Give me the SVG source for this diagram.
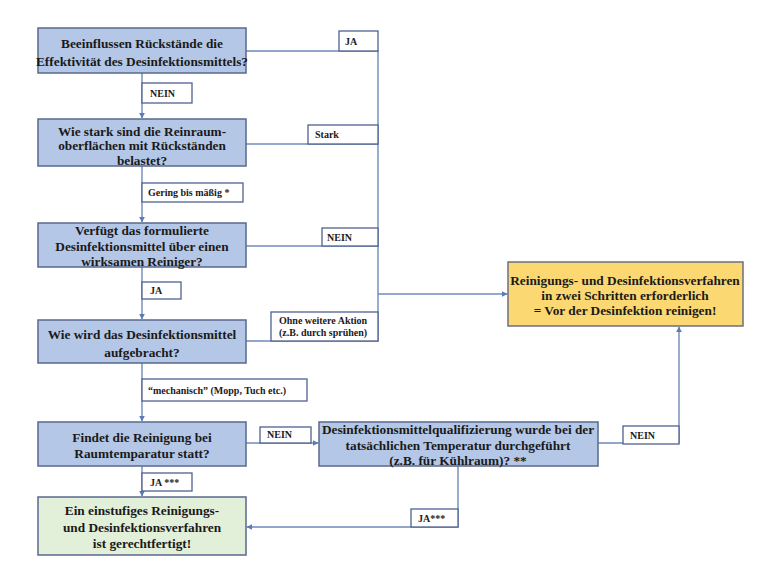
<svg xmlns="http://www.w3.org/2000/svg" width="760" height="570" viewBox="0 0 760 570">
<defs>
<marker id="ah" viewBox="0 0 10 10" refX="9" refY="5" markerWidth="6" markerHeight="6" orient="auto" markerUnits="userSpaceOnUse">
<path d="M0,0 L10,5 L0,10 z" fill="#5a7bb5"/>
</marker>
<style>
.q{fill:#b4c7e7;stroke:#59688f;stroke-width:1.5}
.y{fill:#fcd872;stroke:#6b6f82;stroke-width:1.5}
.g{fill:#e2efd9;stroke:#59688f;stroke-width:1.5}
.t{font-family:"Liberation Serif","Times New Roman",serif;font-weight:bold;font-size:13.3px;fill:#1a1a1a;text-anchor:middle}
.lb{fill:#fff;stroke:#4f6190;stroke-width:1.3}
.lt{font-family:"Liberation Serif","Times New Roman",serif;font-weight:bold;font-size:10px;fill:#1a1a1a}
.c{fill:none;stroke:#6f8bbb;stroke-width:1.4}
</style>
</defs>
<rect width="760" height="570" fill="#fff"/>
<g id="connectors">
<path class="c" d="M142,73 V118" marker-end="url(#ah)"/>
<path class="c" d="M246,51 H378 V341 H246"/>
<path class="c" d="M246,144 H378"/>
<path class="c" d="M246,246 H378"/>
<path class="c" d="M378,294 H507" marker-end="url(#ah)"/>
<path class="c" d="M142,166 V222" marker-end="url(#ah)"/>
<path class="c" d="M142,267 V319" marker-end="url(#ah)"/>
<path class="c" d="M142,363 V421" marker-end="url(#ah)"/>
<path class="c" d="M142,466 V496" marker-end="url(#ah)"/>
<path class="c" d="M246,443 H318" marker-end="url(#ah)"/>
<path class="c" d="M598,443 H679 V327" marker-end="url(#ah)"/>
<path class="c" d="M458,466 V527 H247" marker-end="url(#ah)"/>
</g>
<g id="labels">
<rect class="lb" x="339" y="31" width="39" height="20"/><text class="lt" x="345" y="45">JA</text>
<rect class="lb" x="142" y="83" width="50" height="20"/><text class="lt" x="150" y="97">NEIN</text>
<rect class="lb" x="308" y="125" width="70" height="19"/><text class="lt" x="315" y="138">Stark</text>
<rect class="lb" x="142" y="183" width="101" height="19"/><text class="lt" x="148" y="196">Gering bis mäßig *</text>
<rect class="lb" x="322" y="228" width="56" height="18"/><text class="lt" x="327" y="241">NEIN</text>
<rect class="lb" x="142" y="282" width="39" height="17"/><text class="lt" x="150" y="294">JA</text>
<rect class="lb" x="271" y="312" width="107" height="29"/><text class="lt" x="279" y="324">Ohne weitere Aktion</text><text class="lt" x="279" y="336">(z.B. durch sprühen)</text>
<rect class="lb" x="142" y="379" width="165" height="22"/><text class="lt" x="148" y="394">“mechanisch” (Mopp, Tuch etc.)</text>
<rect class="lb" x="260" y="427" width="51" height="16"/><text class="lt" x="267" y="438">NEIN</text>
<rect class="lb" x="623" y="426" width="56" height="18"/><text class="lt" x="630" y="439">NEIN</text>
<rect class="lb" x="142" y="473" width="50" height="18"/><text class="lt" x="150" y="486">JA ***</text>
<rect class="lb" x="411" y="509" width="47" height="18"/><text class="lt" x="418" y="522">JA***</text>
</g>
<g id="n1"><rect class="q" x="38" y="28" width="208" height="45"/><text class="t" x="142" y="48">Beeinflussen Rückstände die</text><text class="t" x="142" y="66">Effektivität des Desinfektionsmittels?</text></g>
<g id="n2"><rect class="q" x="38" y="119" width="208" height="47"/><text class="t" x="142" y="136">Wie stark sind die Reinraum-</text><text class="t" x="142" y="150">oberflächen mit Rückständen</text><text class="t" x="142" y="165">belastet?</text></g>
<g id="n3"><rect class="q" x="38" y="223" width="208" height="44"/><text class="t" x="142" y="235">Verfügt das formulierte</text><text class="t" x="142" y="251">Desinfektionsmittel über einen</text><text class="t" x="142" y="266">wirksamen Reiniger?</text></g>
<g id="n4"><rect class="q" x="38" y="320" width="208" height="43"/><text class="t" x="142" y="339">Wie wird das Desinfektionsmittel</text><text class="t" x="142" y="357">aufgebracht?</text></g>
<g id="n5"><rect class="q" x="38" y="422" width="208" height="44"/><text class="t" x="142" y="442">Findet die Reinigung bei</text><text class="t" x="142" y="458">Raumtemparatur statt?</text></g>
<g id="n6"><rect class="q" x="319" y="422" width="279" height="44"/><text class="t" x="458" y="434">Desinfektionsmittelqualifizierung wurde bei der</text><text class="t" x="458" y="450">tatsächlichen Temperatur durchgeführt</text><text class="t" x="458" y="465">(z.B. für Kühlraum)? **</text></g>
<g id="n7"><rect class="g" x="38" y="497" width="208" height="58"/><text class="t" x="142" y="515">Ein einstufiges Reinigungs-</text><text class="t" x="142" y="532">und Desinfektionsverfahren</text><text class="t" x="142" y="548">ist gerechtfertigt!</text></g>
<g id="n8"><rect class="y" x="508" y="262" width="235" height="64"/><text class="t" x="625" y="285">Reinigungs- und Desinfektionsverfahren</text><text class="t" x="625" y="300">in zwei Schritten erforderlich</text><text class="t" x="625" y="315">= Vor der Desinfektion reinigen!</text></g>
</svg>
